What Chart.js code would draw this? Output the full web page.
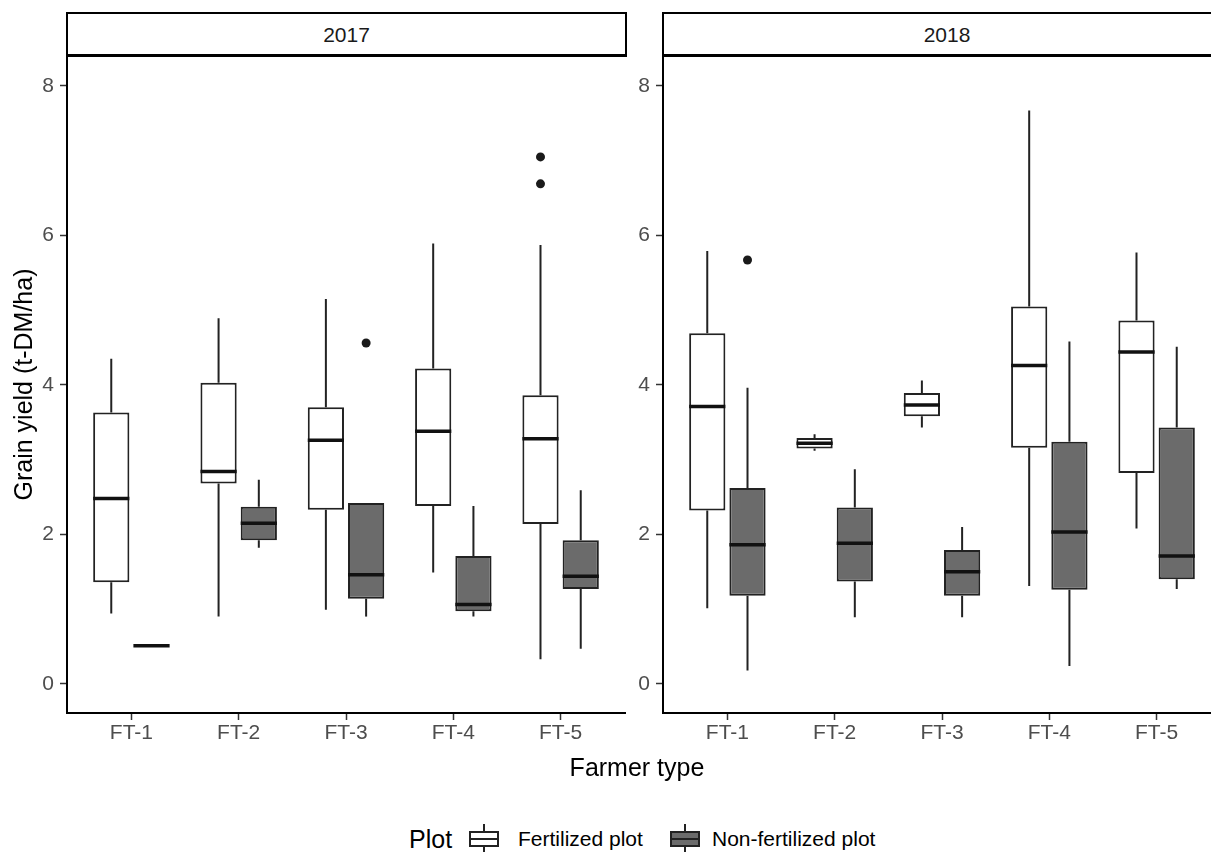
<!DOCTYPE html>
<html>
<head>
<meta charset="utf-8">
<script src="https://cdn.jsdelivr.net/npm/chart.js@4.4.1/dist/chart.umd.min.js"></script>
<style>
  html, body { margin: 0; padding: 0; background: #fff; overflow: hidden; }
  body { width: 1211px; height: 852px; position: relative; font-family: "Liberation Sans", Arial, sans-serif; }
  canvas { position: absolute; top: 50px; }
  .strip {
    position: absolute; top: 12px; height: 45px; box-sizing: border-box;
    border: 2.5px solid #000; border-bottom-width: 3px;
    font-size: 21px; color: #1a1a1a; text-align: center; line-height: 42px;
  }
  .title { position: absolute; font-size: 25px; color: #000; line-height: 28px; white-space: nowrap; }
  .lab { position: absolute; top: 825px; font-size: 21px; line-height: 28px; color: #000; white-space: nowrap; }
  .key { position: absolute; top: 824px; width: 30px; height: 30px; }
  .key .wh { position: absolute; left: 14px; top: 0; width: 2px; height: 30px; background: #222; }
  .key .bx { position: absolute; left: 0; top: 7px; width: 30px; height: 16px; box-sizing: border-box; border: 2px solid #222; }
  .key .md { position: absolute; left: 0; top: 14px; width: 30px; height: 2px; background: #222; }
</style>
</head>
<body>
  <div class="strip" style="left:66px; width:561px;">2017</div>
  <div class="strip" style="left:662px; width:570px;">2018</div>

  <canvas id="chart2017" width="632" height="713" style="left:0px;"></canvas>
  <canvas id="chart2018" width="632" height="713" style="left:596px;"></canvas>

  <div class="title" style="left:67px; width:1140px; top:753px; text-align:center;">Farmer type</div>

  <div class="title" style="left:409px; top:825px;">Plot</div>
  <div class="key" style="left:469px;"><div class="wh"></div><div class="bx" style="background:#fff;"></div><div class="md"></div></div>
  <div class="lab" style="left:518px;">Fertilized plot</div>
  <div class="key" style="left:670px;"><div class="wh"></div><div class="bx" style="background:#6b6b6b;"></div><div class="md"></div></div>
  <div class="lab" style="left:712px;">Non-fertilized plot</div>

<script>
const farmerTypes = ['FT-1', 'FT-2', 'FT-3', 'FT-4', 'FT-5'];
const yTicks = [0, 2, 4, 6, 8];

// [min, Q1, median, Q3, max] for each farmer type
const fert2017 = [
  [0.94, 1.36, 2.48, 3.63, 4.35],
  [0.90, 2.68, 2.84, 4.03, 4.89],
  [0.99, 2.33, 3.26, 3.70, 5.15],
  [1.49, 2.38, 3.38, 4.22, 5.89],
  [0.33, 2.14, 3.28, 3.86, 5.87]
];
const nonFert2017 = [
  [0.51, 0.51, 0.51, 0.51, 0.51],
  [1.82, 1.92, 2.15, 2.37, 2.73],
  [0.90, 1.14, 1.46, 2.42, 2.42],
  [0.90, 0.97, 1.06, 1.71, 2.38],
  [0.47, 1.27, 1.44, 1.92, 2.59]
];
const fert2018 = [
  [1.01, 2.32, 3.71, 4.69, 5.79],
  [3.12, 3.15, 3.22, 3.29, 3.34],
  [3.43, 3.58, 3.73, 3.89, 4.06],
  [1.31, 3.16, 4.26, 5.05, 7.67],
  [2.08, 2.82, 4.44, 4.86, 5.77]
];
const nonFert2018 = [
  [0.18, 1.18, 1.86, 2.62, 3.96],
  [0.89, 1.37, 1.88, 2.36, 2.87],
  [0.89, 1.18, 1.50, 1.79, 2.10],
  [0.24, 1.26, 2.03, 3.24, 4.58],
  [1.27, 1.40, 1.71, 3.43, 4.51]
];

// outliers
const fertOut2017 = [[], [], [], [], [7.05, 6.69]];
const nonFertOut2017 = [[], [], [4.56], [], []];
const fertOut2018 = [[], [], [], [], []];
const nonFertOut2018 = [[5.67], [], [], [], []];

const groupWidth = 0.75;          // dodge width
const dodge = groupWidth / 4;     // centre of each box relative to the tick
const lineColor = '#222222';

// whiskers under the boxes, medians on top
const boxPlugin = {
    id: 'boxWhiskers',
    beforeDatasetsDraw(chart) {
        const y = chart.scales.y;
        const ctx = chart.ctx;
        ctx.save();
        ctx.strokeStyle = lineColor;
        ctx.lineWidth = 2;
        chart.data.datasets.forEach((ds, d) => {
            if (!ds.stats) return;
            chart.getDatasetMeta(d).data.forEach((bar, i) => {
                const s = ds.stats[i];
                ctx.beginPath();
                ctx.moveTo(bar.x, y.getPixelForValue(s[0]));
                ctx.lineTo(bar.x, y.getPixelForValue(s[1]));
                ctx.moveTo(bar.x, y.getPixelForValue(s[3]));
                ctx.lineTo(bar.x, y.getPixelForValue(s[4]));
                ctx.stroke();
            });
        });
        ctx.restore();
    },
    afterDatasetsDraw(chart) {
        const y = chart.scales.y;
        const ctx = chart.ctx;
        ctx.save();
        ctx.strokeStyle = '#111111';
        ctx.lineWidth = 3.5;
        chart.data.datasets.forEach((ds, d) => {
            if (!ds.stats) return;
            chart.getDatasetMeta(d).data.forEach((bar, i) => {
                const py = y.getPixelForValue(ds.stats[i][2]);
                ctx.beginPath();
                ctx.moveTo(bar.x - bar.width / 2, py);
                ctx.lineTo(bar.x + bar.width / 2, py);
                ctx.stroke();
            });
        });
        ctx.restore();
    }
};

// keep the panel edges fixed, whatever the tick labels need
function noPadding(axis) {
    axis.paddingTop = 0;
    axis.paddingBottom = 0;
    axis.paddingLeft = 0;
    axis.paddingRight = 0;
}

function drawPanel(canvasId, fert, nonFert, fertOut, nonFertOut, showTitle) {
    const boxData = stats => stats.map((s, i) => ({ x: i + 1, y: [s[1], s[3]] }));
    const outData = (out, shift) => out.flatMap((vals, i) => vals.map(v => ({ x: i + 1 + shift, y: v })));
    const tickFont = { family: '"Liberation Sans", Arial, sans-serif', size: 21 };

    return new Chart(document.getElementById(canvasId), {
        type: 'bar',
        data: {
            datasets: [
                {
                    label: 'Fertilized plot',
                    data: boxData(fert),
                    stats: fert,
                    backgroundColor: '#ffffff',
                    borderColor: lineColor,
                    borderWidth: 2,
                    borderSkipped: false,
                    categoryPercentage: groupWidth,
                    barPercentage: 0.9
                },
                {
                    label: 'Non-fertilized plot',
                    data: boxData(nonFert),
                    stats: nonFert,
                    backgroundColor: '#6b6b6b',
                    borderColor: lineColor,
                    borderWidth: 2,
                    borderSkipped: false,
                    categoryPercentage: groupWidth,
                    barPercentage: 0.9
                },
                {
                    type: 'scatter',
                    data: outData(fertOut, -dodge).concat(outData(nonFertOut, dodge)),
                    pointRadius: 4.5,
                    pointBackgroundColor: '#1a1a1a',
                    pointBorderWidth: 0,
                    showLine: false
                }
            ]
        },
        options: {
            responsive: false,
            animation: false,
            layout: { padding: { top: 6, right: 7, left: 0, bottom: 0 } },
            plugins: { legend: { display: false }, tooltip: { enabled: false } },
            scales: {
                x: {
                    type: 'linear',
                    min: 0.4,
                    max: 5.6,
                    offset: false,
                    afterBuildTicks: axis => { axis.ticks = farmerTypes.map((_, i) => ({ value: i + 1 })); },
                    afterFit: axis => { axis.height = 50; noPadding(axis); },
                    ticks: {
                        callback: v => farmerTypes[v - 1],
                        color: '#4d4d4d',
                        font: tickFont,
                        padding: 1,
                        maxRotation: 0,
                        autoSkip: false
                    },
                    grid: { offset: false, drawOnChartArea: false, tickLength: 7, tickColor: '#333', tickWidth: 1.5 },
                    border: { color: '#000', width: 2 }
                },
                y: {
                    min: -0.39,
                    max: 8.40,
                    afterBuildTicks: axis => { axis.ticks = yTicks.map(v => ({ value: v })); },
                    afterFit: axis => { axis.width = 67; noPadding(axis); },
                    ticks: { color: '#4d4d4d', font: tickFont, padding: 6 },
                    grid: { drawOnChartArea: false, tickLength: 7, tickColor: '#333', tickWidth: 1.5 },
                    border: { color: '#000', width: 2 },
                    title: {
                        display: showTitle,
                        text: 'Grain yield (t-DM/ha)',
                        color: '#000',
                        font: { family: '"Liberation Sans", Arial, sans-serif', size: 25 },
                        padding: { top: 10, bottom: 0 }
                    }
                }
            }
        },
        plugins: [boxPlugin]
    });
}

drawPanel('chart2017', fert2017, nonFert2017, fertOut2017, nonFertOut2017, true);
drawPanel('chart2018', fert2018, nonFert2018, fertOut2018, nonFertOut2018, false);
</script>
</body>
</html>
